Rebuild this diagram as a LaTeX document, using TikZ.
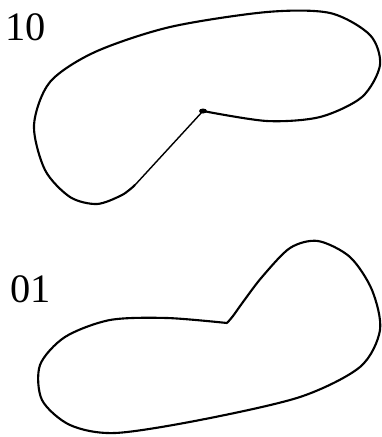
\documentclass[tikz,border=0pt]{standalone}
\usepackage{fontspec}
\setmainfont{Liberation Serif}
\tikzset{
    loopline/.style={line width=1.2pt, line join=round, line cap=round},
    stemline/.style={line width=0.8pt},
    caselabel/.style={font=\fontsize{23}{28}\selectfont, inner sep=0pt}
}
\begin{document}
\begin{tikzpicture}[x=0.02cm, y=-0.02cm]
    \useasboundingbox (0,0) rectangle (382,437);

    % case 10
    \node[caselabel] (lab10) at (26,27) {10};
    \coordinate (tip10) at (203,111);
    \draw[loopline] plot[smooth] coordinates {(tip10) (267,121) (320,117) (362,97) (380,65) (370,35) (330,13) (267,12) (170,27) (95,52) (50,82) (34,125) (45,170) (70,197) (97,204) (122,195) (135,185)};
    \draw[stemline] (135,185) -- (tip10);
    \fill (tip10) ellipse (4 and 2.5);

    % case 01
    \node[caselabel] (lab01) at (31,289) {01};
    \coordinate (tip01) at (227,323);
    \draw[loopline] plot[smooth] coordinates {(tip01) (167,318) (110,320) (65,337) (40,365) (42,400) (70,425) (115,433) (200,420) (300,397) (360,367) (380,330) (372,290) (350,257) (318,241) (290,248) (262,277) (243,302) (233,316) (tip01)};
\end{tikzpicture}
\end{document}
